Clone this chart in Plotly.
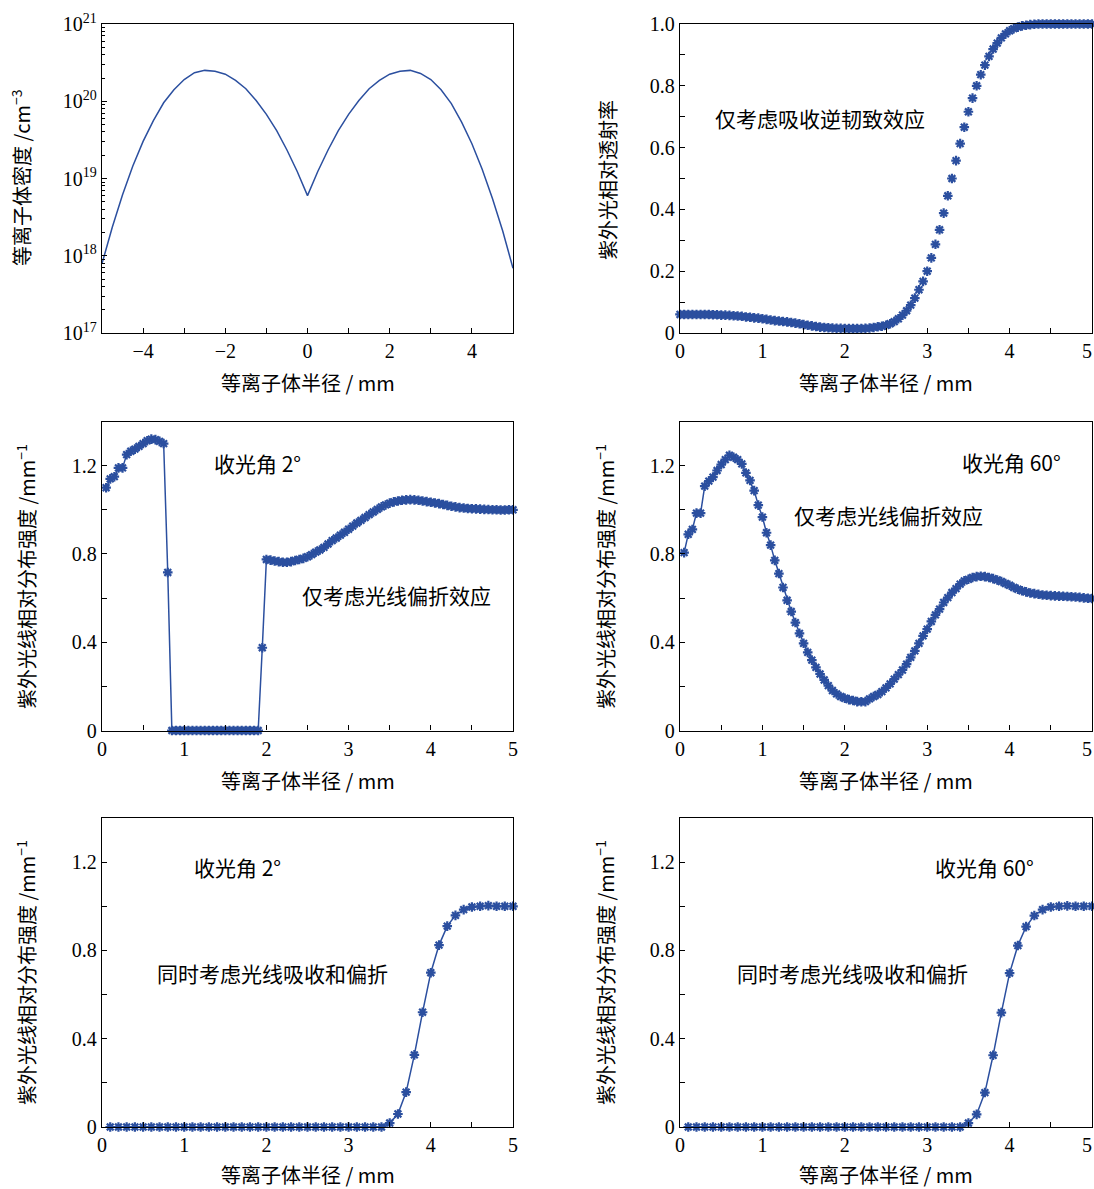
import plotly.graph_objects as go

# ---------------- data ----------------
# Panel (a): plasma density vs radius
r_density = [-5.0, -4.75, -4.5, -4.25, -4.0, -3.75, -3.5, -3.25, -3.0, -2.75, -2.5,
             -2.25, -2.0, -1.75, -1.5, -1.25, -1.0, -0.75, -0.5, -0.25, 0.0,
             0.25, 0.5, 0.75, 1.0, 1.25, 1.5, 1.75, 2.0, 2.25, 2.5,
             2.75, 3.0, 3.25, 3.5, 3.75, 4.0, 4.25, 4.5, 4.75, 5.0]
density = [7.9e17, 2.34e18, 6.17e18, 1.45e19, 3.02e19, 5.62e19, 9.55e19, 1.41e20, 1.91e20, 2.34e20, 2.51e20,
           2.45e20, 2.24e20, 1.86e20, 1.45e20, 1.02e20, 6.76e19, 4.17e19, 2.34e19, 1.23e19, 6.0e18,
           1.23e19, 2.34e19, 4.17e19, 6.76e19, 1.02e20, 1.45e20, 1.86e20, 2.24e20, 2.45e20, 2.51e20,
           2.29e20, 1.91e20, 1.41e20, 9.33e19, 5.37e19, 2.82e19, 1.32e19, 5.5e18, 2.09e18, 6.9e17]

# Panel (b): relative UV transmittance, absorption only
r_trans = [round(0.05 * i, 2) for i in range(101)]
transmittance = [0.060, 0.060, 0.060, 0.060, 0.060, 0.060, 0.060, 0.060, 0.059, 0.059,
                 0.058, 0.058, 0.057, 0.056, 0.055, 0.054, 0.052, 0.051, 0.049, 0.048,
                 0.046, 0.044, 0.042, 0.040, 0.039, 0.037, 0.036, 0.034, 0.032, 0.030,
                 0.027, 0.025, 0.023, 0.021, 0.019, 0.018, 0.017, 0.016, 0.015, 0.015,
                 0.014, 0.014, 0.014, 0.014, 0.014, 0.015, 0.016, 0.018, 0.020, 0.022,
                 0.025, 0.030, 0.037, 0.046, 0.058, 0.072, 0.090, 0.113, 0.140, 0.167,
                 0.200, 0.243, 0.287, 0.334, 0.388, 0.444, 0.500, 0.558, 0.613, 0.666,
                 0.716, 0.760, 0.800, 0.836, 0.867, 0.895, 0.919, 0.938, 0.955, 0.968,
                 0.978, 0.985, 0.990, 0.994, 0.996, 0.998, 0.999, 1.000, 1.000, 1.000,
                 1.000, 1.000, 1.000, 1.000, 1.000, 1.000, 1.000, 1.000, 1.000, 1.000,
                 1.000]

# Panels (c),(d): refraction only
r_refr = [round(0.05 * i, 2) for i in range(1, 101)]
intensity_2deg_refr = [1.100, 1.140, 1.150, 1.190, 1.190, 1.250, 1.265, 1.275, 1.287, 1.300,
                       1.313, 1.320, 1.318, 1.310, 1.300, 0.716, 0.0, 0.0, 0.0, 0.0,
                       0.0, 0.0, 0.0, 0.0, 0.0, 0.0, 0.0, 0.0, 0.0, 0.0,
                       0.0, 0.0, 0.0, 0.0, 0.0, 0.0, 0.0, 0.0, 0.375, 0.775,
                       0.772, 0.768, 0.765, 0.762, 0.762, 0.765, 0.770, 0.775, 0.780, 0.787,
                       0.797, 0.808, 0.818, 0.830, 0.845, 0.860, 0.872, 0.885, 0.898, 0.912,
                       0.926, 0.940, 0.952, 0.965, 0.978, 0.990, 1.002, 1.013, 1.022, 1.030,
                       1.036, 1.040, 1.043, 1.045, 1.046, 1.045, 1.043, 1.040, 1.037, 1.034,
                       1.031, 1.028, 1.024, 1.020, 1.016, 1.013, 1.010, 1.008, 1.006, 1.005,
                       1.004, 1.003, 1.002, 1.001, 1.000, 1.000, 0.999, 0.999, 1.000, 1.000]
intensity_60deg_refr = [0.806, 0.889, 0.911, 0.985, 0.985, 1.107, 1.130, 1.148, 1.178, 1.205,
                        1.227, 1.247, 1.238, 1.227, 1.208, 1.167, 1.133, 1.087, 1.021, 0.967,
                        0.896, 0.840, 0.771, 0.711, 0.648, 0.590, 0.539, 0.489, 0.440, 0.395,
                        0.354, 0.319, 0.286, 0.256, 0.229, 0.203, 0.181, 0.166, 0.154, 0.146,
                        0.140, 0.136, 0.131, 0.130, 0.131, 0.143, 0.154, 0.163, 0.176, 0.193,
                        0.211, 0.233, 0.253, 0.274, 0.301, 0.331, 0.361, 0.395, 0.429, 0.459,
                        0.494, 0.524, 0.550, 0.580, 0.602, 0.625, 0.643, 0.663, 0.678, 0.685,
                        0.693, 0.697, 0.699, 0.697, 0.693, 0.688, 0.682, 0.675, 0.666, 0.658,
                        0.648, 0.640, 0.633, 0.628, 0.623, 0.620, 0.617, 0.614, 0.613, 0.611,
                        0.610, 0.609, 0.608, 0.607, 0.606, 0.605, 0.603, 0.601, 0.599, 0.598]

# Panels (e),(f): absorption + refraction
r_both = [round(0.1 * i, 1) for i in range(1, 51)]
intensity_2deg_both = [0.0] * 34 + [0.018, 0.059, 0.158, 0.327, 0.520, 0.699, 0.824, 0.910,
                                    0.959, 0.985, 0.997, 1.000, 1.003, 1.000, 1.000, 1.000]
intensity_60deg_both = [0.0] * 34 + [0.018, 0.057, 0.156, 0.325, 0.518, 0.697, 0.822, 0.908,
                                     0.958, 0.985, 0.997, 1.000, 1.002, 1.000, 1.000, 1.000]

# ---------------- styling ----------------
W, H = 1094, 1189
BLUE = "#2b4f9f"
NUMFONT = "'Liberation Serif', 'DejaVu Serif', serif"
CJKFONT = "'Noto Sans CJK SC', 'Liberation Serif', sans-serif"

boxes = {  # left, right, top, bottom (pixels)
    1: (102, 513, 24, 333),
    2: (680, 1092, 24, 333),
    3: (102, 513, 421.5, 730.5),
    4: (680, 1092, 421.5, 730.5),
    5: (102, 513, 818, 1127),
    6: (680, 1092, 818, 1127),
}

fig = go.Figure()

def add(n, x, y, mode):
    xa = "x" if n == 1 else f"x{n}"
    ya = "y" if n == 1 else f"y{n}"
    fig.add_trace(go.Scatter(
        x=x, y=y, mode=mode, xaxis=xa, yaxis=ya, cliponaxis=False,
        line=dict(color=BLUE, width=1.5),
        marker=dict(symbol="asterisk-open", size=8, color=BLUE,
                    line=dict(color=BLUE, width=2.2)),
        showlegend=False))

add(1, r_density, density, "lines")
add(2, r_trans, transmittance, "markers")
add(3, r_refr, intensity_2deg_refr, "lines+markers")
add(4, r_refr, intensity_60deg_refr, "lines+markers")
add(5, r_both, intensity_2deg_both, "lines+markers")
add(6, r_both, intensity_60deg_both, "lines+markers")

base_axis = dict(showline=True, linecolor="black", linewidth=1.3, mirror=True,
                 ticks="inside", ticklen=5, tickwidth=1.2, tickcolor="black",
                 showgrid=False, zeroline=False, automargin=False,
                 ticklabeloverflow="allow",
                 tickfont=dict(family=NUMFONT, size=20, color="black"))

layout = dict(width=W, height=H, margin=dict(l=0, r=0, t=0, b=0, pad=0),
              paper_bgcolor="white", plot_bgcolor="white", showlegend=False)

half_ticks = [i * 0.5 for i in range(11)]
half_text = [str(int(v)) if v == int(v) else "" for v in half_ticks]
half_text_right = half_text[:-1] + ["5\u00a0\u00a0"]

for n, (l, r, t, b) in boxes.items():
    xk = "xaxis" if n == 1 else f"xaxis{n}"
    yk = "yaxis" if n == 1 else f"yaxis{n}"
    xa = dict(base_axis, domain=[l / W, r / W], anchor="y" if n == 1 else f"y{n}")
    ya = dict(base_axis, domain=[1 - b / H, 1 - t / H], anchor="x" if n == 1 else f"x{n}")
    if n == 1:
        xa.update(range=[-5, 5], tickvals=list(range(-5, 6)),
                  ticktext=["", "−4", "", "−2", "", "0", "", "2", "", "4", ""])
        ya.update(type="log", range=[17, 21],
                  tickvals=[1e17, 1e18, 1e19, 1e20, 1e21],
                  ticktext=[f"10<sup>{e}</sup>" for e in range(17, 22)],
                  minor=dict(ticks="inside", ticklen=3, tickcolor="black",
                             tickvals=[k * 10.0 ** e for e in range(17, 21) for k in range(2, 10)]))
    else:
        xa.update(range=[0, 5], tickvals=half_ticks,
                  ticktext=half_text_right if n % 2 == 0 else half_text)
        if n == 2:
            yv = [i * 0.1 for i in range(11)]
            ya.update(range=[0, 1.0], tickvals=yv,
                      ticktext=["0", "", "0.2", "", "0.4", "", "0.6", "", "0.8", "", "1.0"])
        else:
            yv = [i * 0.2 for i in range(7)]
            ya.update(range=[0, 1.4], tickvals=yv,
                      ticktext=["0", "", "0.4", "", "0.8", "", "1.2"])
    layout[xk] = xa
    layout[yk] = ya

fig.update_layout(**layout)

def ann(px, py, text, size=20, xanchor="center", angle=0):
    fig.add_annotation(x=px / W, y=1 - py / H, xref="paper", yref="paper",
                       text=text, showarrow=False, xanchor=xanchor, yanchor="middle",
                       textangle=angle,
                       font=dict(family=CJKFONT, size=size, color="black"))

xtitle = "等离子体半径 / mm"
for cx in (307.5, 886):
    for cy in (383, 780, 1174):
        ann(cx, cy, xtitle)

ann(21, 178, "等离子体密度 /cm<sup>−3</sup>", angle=-90)
ann(607, 180, "紫外光相对透射率", angle=-90)
ytitle = "紫外光线相对分布强度 /mm<sup>−1</sup>"
for cx in (26, 605):
    for cy in (577, 973):
        ann(cx, cy, ytitle, angle=-90)

ann(713, 118, "仅考虑吸收逆韧致效应", size=21, xanchor="left")
ann(212, 463, "收光角 2°", size=21, xanchor="left")
ann(300, 595, "仅考虑光线偏折效应", size=21, xanchor="left")
ann(960, 462, "收光角 60°", size=21, xanchor="left")
ann(792, 515, "仅考虑光线偏折效应", size=21, xanchor="left")
ann(192, 867, "收光角 2°", size=21, xanchor="left")
ann(155, 973, "同时考虑光线吸收和偏折", size=21, xanchor="left")
ann(933, 867, "收光角 60°", size=21, xanchor="left")
ann(735, 973, "同时考虑光线吸收和偏折", size=21, xanchor="left")

fig.write_html("out.html", config={"displayModeBar": False},
               post_script="document.body.style.margin='0px';document.body.style.overflow='hidden';")
